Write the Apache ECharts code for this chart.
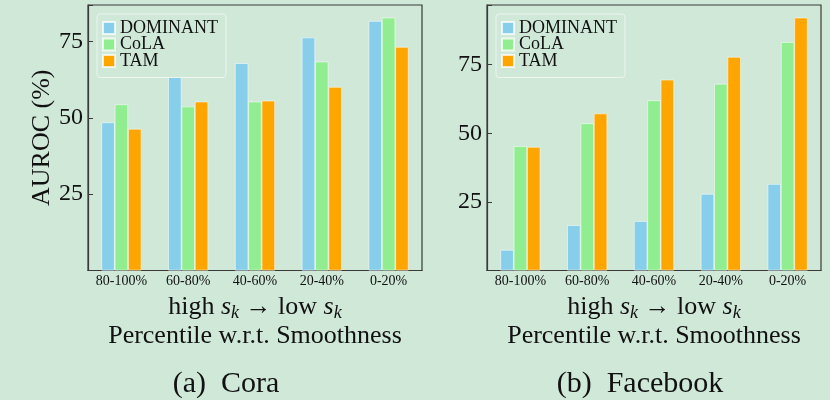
<!DOCTYPE html>
<html><head><meta charset="utf-8">
<script src="https://cdn.jsdelivr.net/npm/echarts@6/dist/echarts.min.js"></script>
<style>html,body{margin:0;padding:0;background:#cfe8d8;} #c{width:830px;height:400px;}</style>
</head><body><div id="c"></div>
<script>
const categories = ['80-100%', '60-80%', '40-60%', '20-40%', '0-20%'];
const seriesNames = ['DOMINANT', 'CoLA', 'TAM'];
const coraDOMINANT = [48.5, 64.0, 67.9, 76.3, 81.7];
const coraCoLA = [54.4, 53.7, 55.3, 68.4, 82.8];
const coraTAM = [46.4, 55.3, 55.6, 60.1, 73.2];
const fbDOMINANT = [7.5, 16.5, 18.0, 27.9, 31.5];
const fbCoLA = [45.3, 53.6, 62.0, 68.0, 83.2];
const fbTAM = [45.0, 57.2, 69.5, 77.8, 92.1];
const yTickLabels = [25, 50, 75];
const yAxisTitle = 'AUROC (%)';
const panelCaptions = ['(a)  Cora', '(b)  Facebook'];

const SERIF = '"Liberation Serif", "DejaVu Serif", serif';
const BG = '#cfe8d8';
const colors = ['#87CEEB', '#90EE90', '#FFA500'];
const axisColor = '#3a3a3a';

const chart = echarts.init(document.getElementById('c'), null, {renderer: 'canvas'});

const xName = '{n|high }{i|s}{sub|k}{n| \u2192 low }{i|s}{sub|k}\n{n|Percentile w.r.t. Smoothness}';

function xAxis(gridIndex) {
  return {
    type: 'category', gridIndex, data: categories,
    axisLine: {show: true, lineStyle: {color: axisColor, width: 1.2}},
    axisTick: {show: true, inside: true, alignWithLabel: true, length: 4, lineStyle: {color: axisColor}},
    axisLabel: {fontFamily: SERIF, fontSize: 14, color: '#111', margin: 4},
    name: xName, nameLocation: 'middle', nameGap: 16,
    nameTextStyle: {
      fontFamily: SERIF, fontSize: 26, color: '#111', lineHeight: 28.5,
      rich: {
        n: {fontFamily: SERIF, fontSize: 26, color: '#111', lineHeight: 28.5},
        i: {fontFamily: SERIF, fontSize: 26, fontStyle: 'italic', color: '#111', lineHeight: 28.5},
        sub: {fontFamily: SERIF, fontSize: 18, fontStyle: 'italic', color: '#111', padding: [11, 0, 0, 0]}
      }
    }
  };
}
function yAxis(gridIndex, withName) {
  return {
    type: 'value', gridIndex, min: 0,
    max: v => v.max * 1.05,
    interval: 25,
    splitLine: {show: false},
    axisLine: {show: true, lineStyle: {color: axisColor, width: 1.2}},
    axisTick: {show: true, inside: true, length: 5, lineStyle: {color: axisColor}},
    axisLabel: {
      fontFamily: SERIF, fontSize: 24, color: '#111', margin: 5,
      formatter: v => (yTickLabels.indexOf(v) >= 0 ? String(v) : '')
    },
    name: withName ? yAxisTitle : '', nameLocation: 'middle', nameGap: 33,
    nameTextStyle: {fontFamily: SERIF, fontSize: 26, color: '#111'}
  };
}
function bars(name, data, idx, color) {
  return {
    type: 'bar', name, data, xAxisIndex: idx, yAxisIndex: idx,
    barGap: '0%', barCategoryGap: '40%',
    itemStyle: {color, borderColor: 'rgba(255,255,255,0.75)', borderWidth: 0.7},
    emphasis: {disabled: true}, animation: false
  };
}
function legend(left) {
  return {
    show: true, data: seriesNames, orient: 'vertical', left, top: 14,
    icon: 'rect', itemWidth: 12, itemHeight: 12, itemGap: -1.5,
    padding: [5, 8, 7.5, 5],
    backgroundColor: BG, borderColor: '#eef4f0', borderWidth: 1, borderRadius: 3,
    textStyle: {fontFamily: SERIF, fontSize: 18, color: '#111'},
    selectedMode: false, z: 10
  };
}

chart.setOption({
  backgroundColor: BG,
  animation: false,
  color: colors,
  legend: [legend(97), legend(496)],
  grid: [
    {left: 88, right: 408, top: 5, bottom: 129.5, show: true, borderColor: axisColor, borderWidth: 1.2, containLabel: false},
    {left: 487, right: 9, top: 5, bottom: 129.5, show: true, borderColor: axisColor, borderWidth: 1.2, containLabel: false}
  ],
  xAxis: [xAxis(0), xAxis(1)],
  yAxis: [yAxis(0, true), yAxis(1, false)],
  series: [
    bars(seriesNames[0], coraDOMINANT, 0, colors[0]),
    bars(seriesNames[1], coraCoLA, 0, colors[1]),
    bars(seriesNames[2], coraTAM, 0, colors[2]),
    bars(seriesNames[0], fbDOMINANT, 1, colors[0]),
    bars(seriesNames[1], fbCoLA, 1, colors[1]),
    bars(seriesNames[2], fbTAM, 1, colors[2])
  ],
  graphic: [
    {type: 'text', x: 226, y: 384, style: {text: panelCaptions[0], font: '30px ' + SERIF, fill: '#111', align: 'center', verticalAlign: 'middle'}},
    {type: 'text', x: 640, y: 384, style: {text: panelCaptions[1], font: '30px ' + SERIF, fill: '#111', align: 'center', verticalAlign: 'middle'}}
  ]
});
</script></body></html>
